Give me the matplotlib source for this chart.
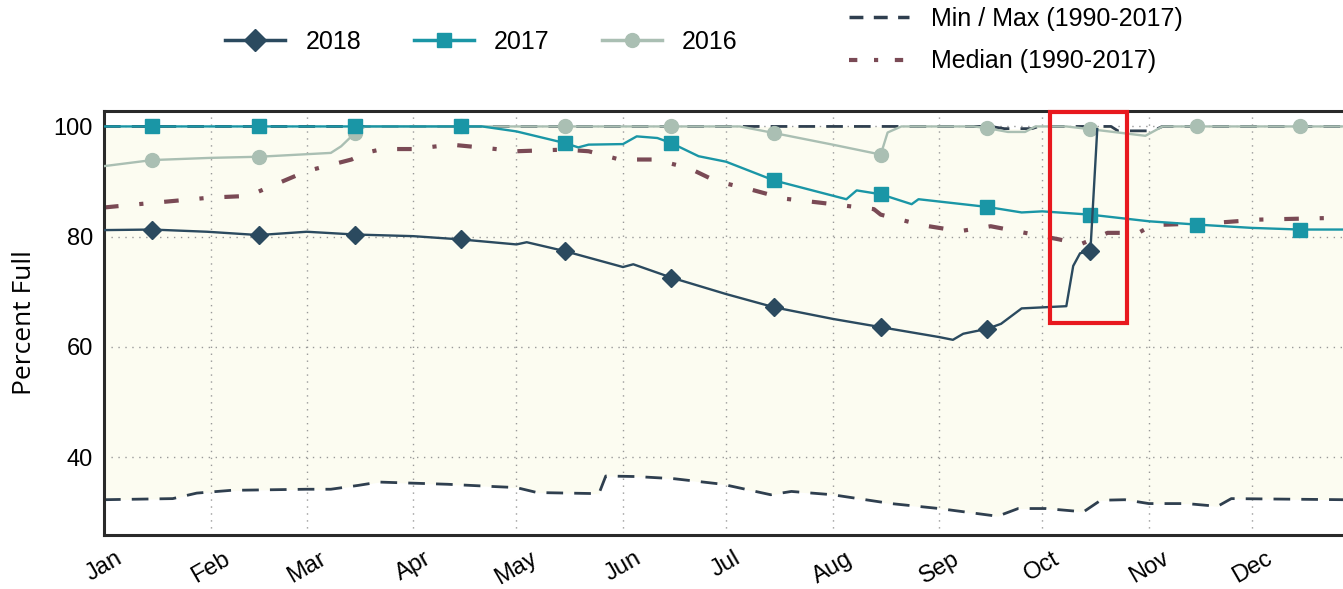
import numpy as np
import matplotlib.pyplot as plt
from matplotlib.patches import Rectangle
from matplotlib.lines import Line2D

# day of year (0 = Jan 1) for month starts and labels
month_starts = [0, 31, 59, 90, 120, 151, 181, 212, 243, 273, 304, 334]
month_labels = ['Jan', 'Feb', 'Mar', 'Apr', 'May', 'Jun',
                'Jul', 'Aug', 'Sep', 'Oct', 'Nov', 'Dec']
mid_month = [14, 45, 73, 104, 134, 165, 195, 226, 257, 287, 318, 348]

days18 = [0, 14, 30, 45, 59, 73, 90, 104, 120, 123, 134, 151, 154, 165, 181,
          195, 212, 226, 243, 247, 250, 257, 261, 267, 280, 282, 284, 287, 289]
vals18 = [81.2, 81.3, 80.9, 80.3, 80.9, 80.4, 80.1, 79.5, 78.6, 79.0, 77.4,
          74.5, 75.0, 72.6, 69.6, 67.2, 65.1, 63.6, 61.8, 61.3, 62.4, 63.3,
          64.2, 67.0, 67.4, 74.7, 77.0, 77.4, 99.5]

days17 = [0, 14, 45, 73, 104, 110, 120, 134, 138, 141, 151, 155, 161, 165,
          173, 181, 195, 216, 219, 226, 235, 237, 257, 267, 273, 287, 304,
          318, 334, 348, 361]
vals17 = [100, 100, 100, 100, 100, 100, 99.1, 97.0, 96.2, 96.7, 96.8, 98.2,
          97.9, 97.0, 94.6, 93.6, 90.2, 86.8, 88.4, 87.7, 85.9, 86.8, 85.4,
          84.4, 84.6, 84.0, 82.8, 82.2, 81.6, 81.3, 81.3]

days16 = [0, 14, 31, 45, 66, 69, 73, 76, 104, 134, 165, 185, 195, 212, 226,
          228, 232, 253, 257, 263, 268, 271, 280, 287, 303, 308, 318, 348, 361]
vals16 = [92.8, 93.9, 94.3, 94.5, 95.2, 96.4, 98.8, 100, 100, 100, 100, 100,
          98.8, 96.7, 94.9, 98.9, 100, 100, 99.7, 99.0, 99.0, 100, 100, 99.5,
          98.3, 100, 100, 100, 100]

days_med = [0, 10, 31, 42, 59, 72, 76, 81, 90, 101, 111, 120, 134, 141, 150,
            160, 170, 178, 188, 198, 208, 224, 226, 238, 249, 258, 268, 278,
            284, 292, 301, 305, 323, 336, 357, 361]
vals_med = [85.3, 85.9, 87.1, 87.4, 91.9, 94.0, 95.2, 95.9, 95.9, 96.7, 96.1,
            95.5, 95.8, 95.5, 94.0, 94.0, 92.5, 90.1, 88.6, 86.9, 86.2, 85.0,
            84.0, 82.1, 81.0, 81.9, 80.7, 79.5, 78.6, 80.7, 80.7, 82.1, 82.5,
            83.1, 83.4, 83.5]

days_min = [0, 20, 27, 37, 59, 66, 74, 80, 90, 100, 113, 120, 126, 144, 146,
            155, 166, 180, 194, 200, 212, 229, 243, 260, 266, 274, 285, 290,
            297, 304, 315, 324, 328, 361]
vals_min = [32.3, 32.5, 33.5, 34.0, 34.2, 34.2, 34.9, 35.5, 35.3, 35.1, 34.7,
            34.5, 33.6, 33.4, 36.6, 36.5, 36.1, 35.1, 33.2, 33.8, 33.2, 31.6,
            30.7, 29.3, 30.7, 30.7, 30.1, 32.2, 32.3, 31.6, 31.6, 31.1, 32.5,
            32.3]

days_max = [0, 258, 262, 270, 272, 293, 295, 305, 308, 361]
vals_max = [100, 100, 99.6, 99.6, 100, 100, 99.2, 99.2, 100, 100]

c18 = '#2B4A5F'
c17 = '#1A96A6'
c16 = '#AABFB3'
cmed = '#7A4A55'
cmm = '#2F3F4F'

plt.rcParams['font.family'] = ['Liberation Sans Narrow', 'Liberation Sans', 'DejaVu Sans']

fig = plt.figure(figsize=(13.43, 5.89), dpi=100)
ax = fig.add_axes([104 / 1343, 54 / 589, 1 - 104 / 1343, 424 / 589])

# shaded envelope between min and max
grid = np.arange(0, 362)
lo = np.interp(grid, days_min, vals_min)
hi = np.interp(grid, days_max, vals_max)
ax.fill_between(grid, lo, hi, color='#FCFCF1', zorder=0, lw=0)

ax.plot(days_max, vals_max, color=cmm, lw=2, dashes=(6, 4), zorder=2)
ax.plot(days_min, vals_min, color=cmm, lw=2, dashes=(6, 4), zorder=2)
ax.plot(days_med, vals_med, color=cmed, lw=3, dashes=(3.5, 5, 1, 5), zorder=2)

def mark_idx(days):
    return [i for i, d in enumerate(days) if d in mid_month]

ax.plot(days16, vals16, color=c16, lw=1.7, marker='o', ms=10,
        markevery=mark_idx(days16), zorder=3)
ax.plot(days17, vals17, color=c17, lw=1.7, marker='s', ms=10,
        markevery=mark_idx(days17), zorder=4)
ax.plot(days18, vals18, color=c18, lw=1.7, marker='D', ms=9,
        markevery=mark_idx(days18), zorder=5)

# highlight box around the October jump
box = Rectangle((275.2, 64.4), 22.4, 38.3, fill=False, edgecolor='#E8181E',
                lw=3, zorder=6, clip_on=False)
ax.add_patch(box)

ax.set_xlim(0, 360.5)
ax.set_ylim(25.9, 102.8)
ax.set_xticks(month_starts)
ax.set_xticklabels(month_labels, rotation=30, ha='center', fontsize=17)
ax.set_yticks([40, 60, 80, 100])
ax.tick_params(axis='y', labelsize=17, length=0, pad=8)
ax.tick_params(axis='x', length=0, pad=9)
ax.grid(True, color='#999999', linestyle=(0, (1, 4)), lw=1)
ax.set_axisbelow(True)
for s in ['top', 'left', 'bottom']:
    ax.spines[s].set_linewidth(2.2)
    ax.spines[s].set_color('#2A2A2A')
ax.spines['right'].set_visible(False)
ax.set_ylabel('Percent Full', fontsize=19, family=['Open Sans', 'DejaVu Sans'],
              labelpad=12)

# legends
h18 = Line2D([], [], color=c18, lw=2.5, marker='D', ms=11)
h17 = Line2D([], [], color=c17, lw=2.5, marker='s', ms=10)
h16 = Line2D([], [], color=c16, lw=2.5, marker='o', ms=10)
fig.legend([h18, h17, h16], ['2018', '2017', '2016'], ncol=3,
           loc='center left', bbox_to_anchor=(203 / 1343, 1 - 42 / 589),
           frameon=False, fontsize=18, handlelength=2.4, columnspacing=2.1,
           handletextpad=0.8)
hmm = Line2D([], [], color=cmm, lw=2.5, dashes=(4, 3))
hmed = Line2D([], [], color=cmed, lw=3, dashes=(2, 4, 1, 4))
fig.legend([hmm, hmed], ['Min / Max (1990-2017)', 'Median (1990-2017)'],
           loc='center left', bbox_to_anchor=(826 / 1343, 1 - 40 / 589),
           frameon=False, fontsize=18, handlelength=2.4, handletextpad=0.9,
           labelspacing=0.75)

fig.savefig('out.png', dpi=100)
